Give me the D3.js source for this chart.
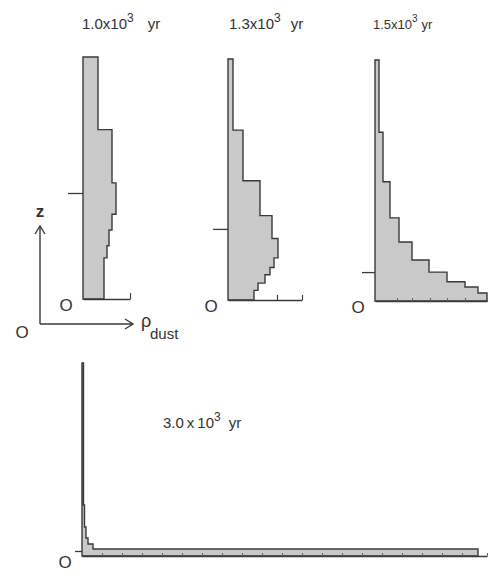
<!DOCTYPE html>
<html>
<head>
<meta charset="utf-8">
<script src="https://cdn.jsdelivr.net/npm/d3@7"></script>
<style>
  html, body { margin: 0; padding: 0; background: #fff; }
  svg { display: block; }
  text { font-family: "Liberation Sans", Arial, sans-serif; fill: #333; }
</style>
</head>
<body>
<svg id="chart" width="490" height="580"></svg>
<script>
// ---------- data (z in % of panel height, rho_dust in arbitrary units) ----------
const panelTitles = ["1.0x10", "1.3x10", "1.5x10", "3.0\u2009x\u200910"];
const titleExp = ["3", "3", "3", "3"];
const titleUnit = "yr";

const zEdges1 = [0, 17, 22, 28.5, 35, 48, 70, 100];
const rho1    = [21, 24, 26, 29, 33, 29, 15];

const zEdges2 = [0, 4, 7, 10.5, 13.5, 17.5, 25.5, 35, 49.5, 70.5, 100];
const rho2    = [26, 30, 37, 42, 46, 50, 44, 32, 15, 5];

const zEdges3 = [0, 3.3, 5.8, 8, 12, 17, 24.5, 34.5, 49.5, 70, 100];
const rho3    = [112, 103, 90, 72, 54, 37, 24, 15, 8, 4];

const zEdges4 = [0, 3.6, 6.2, 9.3, 15, 26.4, 100];
const rho4    = [396, 11, 6, 4, 2.5, 1.5];

const zMarks = [43.8, 29.5, 12, 2.6];          // scale-height marks on z axes
const rhoMax = [47, 74, 112, 405];             // extent of each rho axis
const rhoTicks1 = [47];
const rhoTicks2 = [49, 74];
const rhoTicks3 = [22, 37, 55, 72, 90, 112];
const rhoTicks4 = [20, 40, 60, 80, 100, 120, 140, 160, 180, 200, 220, 240, 260, 280, 300, 320, 340, 360, 380, 405];
const originLabel = "O";
const axisLabelZ = "z";
const axisLabelRho = "\u03C1";
const axisLabelRhoSub = "dust";

// ---------- layout ----------
const layout = [
  { x0: 83,  base: 299, top: 57,  tx: 82,  ty: 29,  fs: 15, ufs: 15, dx: 14, markLen: 15, tickUp: 6 },
  { x0: 228, base: 300, top: 59,  tx: 229, ty: 29,  fs: 15, ufs: 15, dx: 10, markLen: 15, tickUp: 5 },
  { x0: 375, base: 301, top: 60,  tx: 373, ty: 29,  fs: 13, ufs: 13, dx: 4,  markLen: 13, tickUp: 3 },
  { x0: 82,  base: 556, top: 363, tx: 163, ty: 428, fs: 15, ufs: 15, dx: 8,  markLen: 7,  tickUp: 3 }
];
const panels = [
  { edges: zEdges1, rho: rho1, ticks: rhoTicks1 },
  { edges: zEdges2, rho: rho2, ticks: rhoTicks2 },
  { edges: zEdges3, rho: rho3, ticks: rhoTicks3 },
  { edges: zEdges4, rho: rho4, ticks: rhoTicks4 }
];

const INK = "#3a3a3a";
const FILL = "#c9c9c9";
const svg = d3.select("#chart");

panels.forEach((p, i) => {
  const L = layout[i];
  const x = d3.scaleLinear().domain([0, rhoMax[i]]).range([L.x0, L.x0 + rhoMax[i]]);
  const y = d3.scaleLinear().domain([0, 100]).range([L.base, L.top]);
  const g = svg.append("g");

  // step profile vertices
  const pts = [[0, 0]];
  p.rho.forEach((r, k) => { pts.push([r, p.edges[k]]); pts.push([r, p.edges[k + 1]]); });
  pts.push([0, 100]);
  const line = d3.line().x(d => x(d[0])).y(d => y(d[1]));
  g.append("path")
    .attr("d", line(pts) + "Z")
    .attr("fill", FILL)
    .attr("stroke", INK)
    .attr("stroke-width", 1.4)
    .attr("stroke-linejoin", "miter");

  // rho axis (baseline)
  const ax = g.append("g")
    .attr("transform", `translate(0,${L.base})`)
    .call(d3.axisBottom(x).tickValues(p.ticks).tickSize(-L.tickUp).tickSizeOuter(0).tickFormat(""));
  ax.select(".domain").attr("stroke", INK).attr("stroke-width", 1.5);
  ax.selectAll(".tick line").attr("stroke", i === 3 || i === 2 ? "#666" : INK).attr("stroke-width", 1.1);

  // z axis mark
  const az = g.append("g")
    .attr("transform", `translate(${L.x0},0)`)
    .call(d3.axisLeft(y).tickValues([zMarks[i]]).tickSize(L.markLen).tickSizeOuter(0).tickFormat(""));
  az.select(".domain").remove();
  az.selectAll(".tick line").attr("stroke", INK).attr("stroke-width", 1.3);

  // origin label
  g.append("text")
    .attr("x", L.x0 - 17).attr("y", L.base + 12)
    .attr("text-anchor", "middle")
    .attr("font-size", 17)
    .text(originLabel);

  // title
  const t = g.append("text")
    .attr("x", L.tx).attr("y", L.ty)
    .attr("font-size", L.fs);
  t.append("tspan").text(panelTitles[i]);
  t.append("tspan").attr("dy", -7).attr("font-size", L.fs - 3).text(titleExp[i]);
  t.append("tspan").attr("dy", 7).attr("dx", L.dx).attr("font-size", L.ufs).text(titleUnit);
});

// ---------- legend axes (z / rho_dust arrows) ----------
const ox = 40, oy = 324, zTip = 226, rTip = 133;
const leg = svg.append("g").attr("stroke", INK).attr("stroke-width", 1.4).attr("fill", "none");
leg.append("line").attr("x1", ox).attr("y1", oy).attr("x2", ox).attr("y2", zTip);
leg.append("line").attr("x1", ox).attr("y1", oy).attr("x2", rTip).attr("y2", oy);
leg.append("path").attr("d", `M${ox - 5},${zTip + 8}L${ox},${zTip}L${ox + 5},${zTip + 8}`);
leg.append("path").attr("d", `M${rTip - 8},${oy - 5}L${rTip},${oy}L${rTip - 8},${oy + 5}`);

svg.append("text").attr("x", ox).attr("y", 217).attr("text-anchor", "middle")
  .attr("font-size", 17).attr("font-weight", "bold").text(axisLabelZ);
svg.append("text").attr("x", 22).attr("y", 338).attr("text-anchor", "middle")
  .attr("font-size", 17).text(originLabel);
svg.append("text").attr("x", 141).attr("y", 327).attr("font-size", 18).text(axisLabelRho);
svg.append("text").attr("x", 150).attr("y", 339).attr("font-size", 15).text(axisLabelRhoSub);
</script>
</body>
</html>
